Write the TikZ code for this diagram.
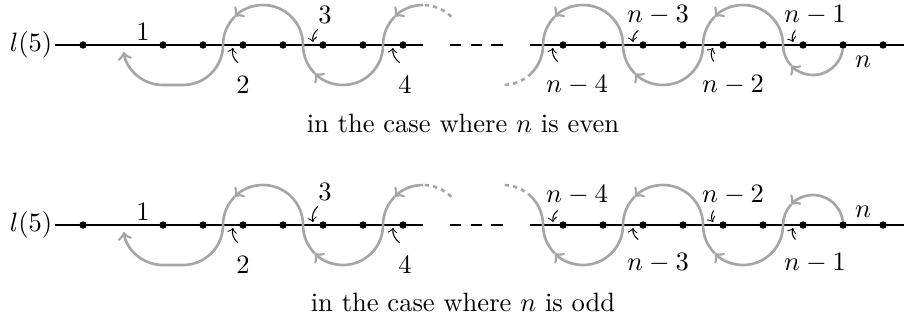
\documentclass[tikz,border=0pt]{standalone}
\usetikzlibrary{calc}
\newcommand{\walkarc}[4]{% centre, radius, start angle, end angle
  \draw[walk,->] (#1) ++(#3:#2) arc[start angle=#3,end angle={(#3)+0.75*((#4)-(#3))},radius=#2];
  \draw[walk] (#1) ++({(#3)+0.75*((#4)-(#3))}:#2) arc[start angle={(#3)+0.75*((#4)-(#3))},end angle=#4,radius=#2];}

\begin{document}
\begin{tikzpicture}[x=0.377pt,y=0.377pt,
  dot/.style={circle,fill,inner sep=0pt,minimum size=2.8pt},
  seg/.style={line width=1.1pt},
  walk/.style={black!35,line width=1pt},
  walkdots/.style={walk,dash pattern=on 1.6pt off 1.6pt},
  ptr/.style={->},
  num/.style={inner sep=1pt}]
  \useasboundingbox (0,0) rectangle (904,320);
  % n even
  \node[inner sep=1pt] (El) at (31,275) {$l(5)$};
  \node[dot] (E1) at (83,275) {};  \node[dot] (E2) at (163,275) {};
  \node[dot] (E3) at (203,275) {}; \node[dot] (E4) at (243,275) {};
  \node[dot] (E5) at (283,275) {}; \node[dot] (E6) at (323,275) {};
  \node[dot] (E7) at (363,275) {}; \node[dot] (E8) at (403,275) {};
  \node[dot] (E9) at (563,275) {}; \node[dot] (E10) at (603,275) {};
  \node[dot] (E11) at (643,275) {}; \node[dot] (E12) at (683,275) {};
  \node[dot] (E13) at (723,275) {}; \node[dot] (E14) at (763,275) {};
  \node[dot] (E15) at (803,275) {}; \node[dot] (E16) at (843,275) {};
  \node[dot] (E17) at (883,275) {};
  \coordinate (Ea) at (423,275);
  \coordinate (Eb) at (450,275);
  \coordinate (Ec) at (503,275);
  \coordinate (Ed) at (530,275);
  \coordinate (Ee) at (904,275);
  \draw (El.east) -- (Ea);
  \draw (Ed) -- (Ee);
  \draw[seg] (E1) -- (E2) (E3) -- (E4) (E5) -- (E6) (E7) -- (E8);
  \draw[seg,dash pattern=on 4.2pt off 3.6pt] (Eb) -- (Ec);
  \draw[seg] (Ed) -- (E9) (E10) -- (E11) (E12) -- (E13) (E14) -- (E15) (E16) -- (E17);
  \walkarc{813,275}{30}{-8}{-180}
  \walkarc{743,275}{40}{0}{180}
  \walkarc{663,275}{40}{0}{-180}
  \walkarc{583,275}{40}{0}{180}
  \draw[walk] (543,275) arc[start angle=0,end angle=-45,radius=40];
  \draw[walkdots] (503,275) ++(-45:40) arc[start angle=-45,end angle=-90,radius=40];
  \draw[walkdots] (423,275) ++(45:40) arc[start angle=45,end angle=90,radius=40];
  \draw[walk,->] (423,315) arc[start angle=90,end angle=135,radius=40];
  \draw[walk] (423,275) ++(135:40) arc[start angle=135,end angle=180,radius=40];
  \walkarc{343,275}{40}{0}{-180}
  \walkarc{263,275}{40}{0}{180}
  \draw[walk,->] (223,275) arc[start angle=0,end angle=-90,radius=40] -- (163,235)
    arc[start angle=-90,end angle=-170,radius=40];
  \node[num] (E1l) at (143,288) {$1$};
  \node[num] (E2l) at (243,235) {$2$};
  \node[num] (E3l) at (325,305) {$3$};
  \node[num] (E4l) at (405,235) {$4$};
  \node[num] (En4l) at (577,235) {$n-4$};
  \node[num] (En3l) at (658,305) {$n-3$};
  \node[num] (En2l) at (733,235) {$n-2$};
  \node[num] (En1l) at (815,305) {$n-1$};
  \node[num] (Enl) at (863,258) {$n$};
  \coordinate (E2p) at (233,272);
  \coordinate (E3p) at (313,278);
  \coordinate (E4p) at (393,272);
  \coordinate (En4p) at (553,272);
  \coordinate (En3p) at (633,278);
  \coordinate (En2p) at (713,272);
  \coordinate (En1p) at (793,278);
  \draw[ptr] ([shift={(1.7pt,4pt)}]E2l.north west) to[bend left=30] (E2p);
  \draw[ptr] ([shift={(1pt,-1pt)}]E3l.south west) to[bend right=30] (E3p);
  \draw[ptr] ([shift={(1.7pt,4pt)}]E4l.north west) to[bend left=30] (E4p);
  \draw[ptr] ([shift={(5.5pt,4pt)}]En4l.north west) to[bend left=30] (En4p);
  \draw[ptr] ([shift={(5.4pt,-1pt)}]En3l.south west) to[bend right=30] (En3p);
  \draw[ptr] ([shift={(5.5pt,4pt)}]En2l.north west) to[bend left=30] (En2p);
  \draw[ptr] ([shift={(5.4pt,-1pt)}]En1l.south west) to[bend right=30] (En1p);
  \node (Ecap) at (463,197) {in the case where $n$ is even};
  % n odd
  \node[inner sep=1pt] (Ol) at (31,95) {$l(5)$};
  \node[dot] (O1) at (83,95) {};  \node[dot] (O2) at (163,95) {};
  \node[dot] (O3) at (203,95) {}; \node[dot] (O4) at (243,95) {};
  \node[dot] (O5) at (283,95) {}; \node[dot] (O6) at (323,95) {};
  \node[dot] (O7) at (363,95) {}; \node[dot] (O8) at (403,95) {};
  \node[dot] (O9) at (563,95) {}; \node[dot] (O10) at (603,95) {};
  \node[dot] (O11) at (643,95) {}; \node[dot] (O12) at (683,95) {};
  \node[dot] (O13) at (723,95) {}; \node[dot] (O14) at (763,95) {};
  \node[dot] (O15) at (803,95) {}; \node[dot] (O16) at (843,95) {};
  \node[dot] (O17) at (883,95) {};
  \coordinate (Oa) at (423,95);
  \coordinate (Ob) at (450,95);
  \coordinate (Oc) at (503,95);
  \coordinate (Od) at (530,95);
  \coordinate (Oe) at (904,95);
  \draw (Ol.east) -- (Oa);
  \draw (Od) -- (Oe);
  \draw[seg] (O1) -- (O2) (O3) -- (O4) (O5) -- (O6) (O7) -- (O8);
  \draw[seg,dash pattern=on 4.2pt off 3.6pt] (Ob) -- (Oc);
  \draw[seg] (Od) -- (O9) (O10) -- (O11) (O12) -- (O13) (O14) -- (O15) (O16) -- (O17);
  \walkarc{813,95}{30}{8}{180}
  \walkarc{743,95}{40}{0}{-180}
  \walkarc{663,95}{40}{0}{180}
  \walkarc{583,95}{40}{0}{-180}
  \draw[walk] (543,95) arc[start angle=0,end angle=45,radius=40];
  \draw[walkdots] (503,95) ++(45:40) arc[start angle=45,end angle=90,radius=40];
  \draw[walkdots] (423,95) ++(45:40) arc[start angle=45,end angle=90,radius=40];
  \draw[walk,->] (423,135) arc[start angle=90,end angle=135,radius=40];
  \draw[walk] (423,95) ++(135:40) arc[start angle=135,end angle=180,radius=40];
  \walkarc{343,95}{40}{0}{-180}
  \walkarc{263,95}{40}{0}{180}
  \draw[walk,->] (223,95) arc[start angle=0,end angle=-90,radius=40] -- (163,55)
    arc[start angle=-90,end angle=-170,radius=40];
  \node[num] (O1l) at (143,108) {$1$};
  \node[num] (O2l) at (243,55) {$2$};
  \node[num] (O3l) at (325,128) {$3$};
  \node[num] (O4l) at (405,55) {$4$};
  \node[num] (On4l) at (577,125) {$n-4$};
  \node[num] (On3l) at (658,57) {$n-3$};
  \node[num] (On2l) at (733,125) {$n-2$};
  \node[num] (On1l) at (815,57) {$n-1$};
  \node[num] (Onl) at (863,108) {$n$};
  \coordinate (O2p) at (233,92);
  \coordinate (O3p) at (313,98);
  \coordinate (O4p) at (393,92);
  \coordinate (On4p) at (553,98);
  \coordinate (On3p) at (633,92);
  \coordinate (On2p) at (713,98);
  \coordinate (On1p) at (793,92);
  \draw[ptr] ([shift={(1.7pt,4pt)}]O2l.north west) to[bend left=30] (O2p);
  \draw[ptr] ([shift={(1pt,-1pt)}]O3l.south west) to[bend right=30] (O3p);
  \draw[ptr] ([shift={(1.7pt,4pt)}]O4l.north west) to[bend left=30] (O4p);
  \draw[ptr] ([shift={(5.5pt,-1pt)}]On4l.south west) to[bend right=30] (On4p);
  \draw[ptr] ([shift={(5.4pt,4pt)}]On3l.north west) to[bend left=30] (On3p);
  \draw[ptr] ([shift={(5.5pt,-1pt)}]On2l.south west) to[bend right=30] (On2p);
  \draw[ptr] ([shift={(5.4pt,4pt)}]On1l.north west) to[bend left=30] (On1p);
  \node (Ocap) at (463,18) {in the case where $n$ is odd};
\end{tikzpicture}
\end{document}
